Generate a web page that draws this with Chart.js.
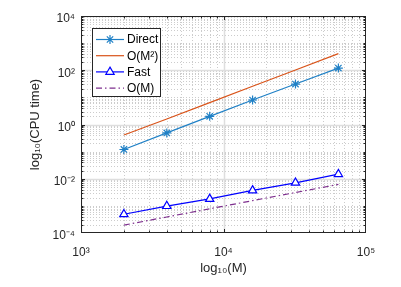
<!DOCTYPE html>
<html><head><meta charset="utf-8">
<script src="https://cdn.jsdelivr.net/npm/chart.js@4"></script>
<style>html,body{margin:0;padding:0;background:#fff}#wrap{width:401px;height:287px}</style>
</head><body><div id="wrap"><canvas id="c" width="401" height="287"></canvas></div>
<script>
// ---- data ----
const problemSizes = [2000, 4000, 8000, 16000, 32000, 64000];
const directTimes  = [0.12, 0.49, 2.0, 8.0, 31, 120];
const orderM2Ref   = [0.41, 1.6, 6.4, 25.6, 102, 410];
const fastTimes    = [4.9e-4, 9.8e-4, 1.8e-3, 3.7e-3, 7.1e-3, 1.48e-2];
const orderMRef    = [1.95e-4, 3.9e-4, 7.8e-4, 1.56e-3, 3.1e-3, 6.2e-3];
const xTickValues  = [1e3, 1e4, 1e5];
const yTickValues  = [1e-4, 1e-2, 1, 1e2, 1e4];
const seriesLabels = ['Direct', 'O(M²)', 'Fast', 'O(M)'];
const xTitle = 'log₁₀(M)';
const yTitle = 'log₁₀(CPU time)';

const FONT = '"Liberation Sans", Arial, sans-serif';
const AX = '#262626';
const SUP = {'-':'⁻','0':'⁰','1':'¹','2':'²','3':'³','4':'⁴','5':'⁵','6':'⁶','7':'⁷','8':'⁸','9':'⁹'};
function powLabel(v){ const e = Math.round(Math.log10(v)); return '10' + String(e).split('').map(c=>SUP[c]).join(''); }
const pts = arr => problemSizes.map((m,i)=>({x:m, y:arr[i]}));

const colors = ['#1f80c6', '#D95319', '#0000FF', '#7E2F8E'];
const datasets = [
  {label:seriesLabels[0], data:pts(directTimes), borderColor:colors[0], backgroundColor:colors[0], borderWidth:1.2, pointStyle:'star', pointRadius:4.5, pointBorderWidth:1.2},
  {label:seriesLabels[1], data:pts(orderM2Ref), borderColor:colors[1], borderWidth:1.2, pointRadius:0},
  {label:seriesLabels[2], data:pts(fastTimes), borderColor:colors[2], backgroundColor:'#ffffff', borderWidth:1.2, pointStyle:'triangle', pointRadius:4.8, pointBorderWidth:1.2},
  {label:seriesLabels[3], data:pts(orderMRef), borderColor:colors[3], borderWidth:1.2, pointRadius:0, borderDash:[6,3,1.5,3]}
];

function minorValues(lo, hi){ // 1..9 x 10^k inside (lo,hi)
  const out=[]; for(let e=Math.round(Math.log10(lo)); e<Math.round(Math.log10(hi)); e++){ for(let k=1;k<10;k++){ const v=k*Math.pow(10,e); if(v>lo && v<hi) out.push(v);} }
  return out;
}
const isMajor = (list,v) => list.some(t=>Math.abs(t-v)/t<1e-9);

const matlabAxes = {
  id:'matlabAxes',
  beforeDatasetsDraw(chart){
    const {ctx, chartArea:a, scales:{x,y}} = chart;
    ctx.save();
    ctx.beginPath(); ctx.rect(a.left,a.top,a.right-a.left,a.bottom-a.top); ctx.clip();
    ctx.strokeStyle='#cccccc'; ctx.lineWidth=1; ctx.setLineDash([1,2]);
    minorValues(1e3,1e5).forEach(v=>{ if(isMajor(xTickValues,v)) return; const p=Math.round(x.getPixelForValue(v))+0.5; ctx.beginPath(); ctx.moveTo(p,a.top); ctx.lineTo(p,a.bottom); ctx.stroke(); });
    minorValues(1e-4,1e4).forEach(v=>{ if(isMajor(yTickValues,v)) return; const p=Math.round(y.getPixelForValue(v))+0.5; ctx.beginPath(); ctx.moveTo(a.left,p); ctx.lineTo(a.right,p); ctx.stroke(); });
    ctx.setLineDash([]); ctx.strokeStyle='#dedede'; ctx.lineWidth=1.5;
    xTickValues.forEach(v=>{ const p=Math.round(x.getPixelForValue(v))+0.5; ctx.beginPath(); ctx.moveTo(p,a.top); ctx.lineTo(p,a.bottom); ctx.stroke(); });
    yTickValues.forEach(v=>{ const p=Math.round(y.getPixelForValue(v))+0.5; ctx.beginPath(); ctx.moveTo(a.left,p); ctx.lineTo(a.right,p); ctx.stroke(); });
    ctx.restore();
  },
  afterDatasetsDraw(chart){
    const {ctx, chartArea:a, scales:{x,y}} = chart;
    ctx.save();
    ctx.strokeStyle=AX; ctx.lineWidth=1; ctx.setLineDash([]);
    const L=Math.round(a.left)+0.5, R=Math.round(a.right)-0.5, T=Math.round(a.top)+0.5, B=Math.round(a.bottom)-0.5;
    ctx.strokeRect(L,T,R-L,B-T);
    const tick=(p,len,hor)=>{ ctx.beginPath(); if(hor){ctx.moveTo(p,B);ctx.lineTo(p,B-len);ctx.moveTo(p,T);ctx.lineTo(p,T+len);} else {ctx.moveTo(L,p);ctx.lineTo(L+len,p);ctx.moveTo(R,p);ctx.lineTo(R-len,p);} ctx.stroke(); };
    minorValues(1e3,1e5).forEach(v=>tick(Math.round(x.getPixelForValue(v))+0.5, isMajor(xTickValues,v)?3.5:2, true));
    minorValues(1e-4,1e4).forEach(v=>tick(Math.round(y.getPixelForValue(v))+0.5, isMajor(yTickValues,v)?3.5:2, false));
    // legend
    const lx=92.5, ly=28.5, lw=68, lh=68;
    ctx.fillStyle='#fff'; ctx.fillRect(lx,ly,lw,lh);
    ctx.strokeStyle=AX; ctx.strokeRect(lx,ly,lw,lh);
    chart.data.datasets.forEach((ds,i)=>{
      const cy = 39.5 + i*16.2;
      ctx.save();
      ctx.strokeStyle=ds.borderColor; ctx.lineWidth=ds.borderWidth; ctx.setLineDash(ds.borderDash||[]);
      ctx.beginPath(); ctx.moveTo(96,cy); ctx.lineTo(124,cy); ctx.stroke();
      ctx.setLineDash([]);
      if(ds.pointRadius>0){
        ctx.fillStyle=ds.backgroundColor; ctx.strokeStyle=ds.borderColor; ctx.lineWidth=ds.pointBorderWidth;
        Chart.helpers.drawPoint(ctx,{pointStyle:ds.pointStyle, radius:ds.pointRadius, rotation:0, borderWidth:ds.pointBorderWidth}, 110, cy);
      }
      ctx.restore();
      ctx.fillStyle='#000'; ctx.font='12px '+FONT; ctx.textBaseline='middle'; ctx.textAlign='left';
      ctx.fillText(ds.label, 127, cy+0.5);
    });
    ctx.restore();
  }
};

new Chart(document.getElementById('c'), {
  type:'line',
  data:{datasets},
  options:{
    responsive:false, devicePixelRatio:1, animation:false,
    layout:{padding:{top:16, right:35, left:0, bottom:0}},
    plugins:{legend:{display:false}, tooltip:{enabled:false}},
    elements:{line:{tension:0}},
    scales:{
      x:{type:'logarithmic', position:'bottom', min:1e3, max:1e5,
        grid:{display:false, drawTicks:false}, border:{display:false},
        afterBuildTicks:s=>{ s.ticks = xTickValues.map(v=>({value:v})); },
        afterFit:s=>{ s.height = 54; },
        ticks:{autoSkip:false, maxRotation:0, padding:12, color:AX, font:{family:FONT, size:12}, callback:v=>powLabel(v)},
        title:{display:true, text:xTitle, color:AX, font:{family:FONT, size:13}, padding:{top:0, bottom:11}}
      },
      y:{type:'logarithmic', position:'left', min:1e-4, max:1e4,
        grid:{display:false, drawTicks:false}, border:{display:false},
        afterBuildTicks:s=>{ s.ticks = yTickValues.map(v=>({value:v})); },
        afterFit:s=>{ s.width = 81; },
        ticks:{autoSkip:false, padding:6, color:AX, font:{family:FONT, size:12, lineHeight:'6px'}, callback:v=>['', powLabel(v)]},
        title:{display:true, text:yTitle, color:AX, font:{family:FONT, size:13}, padding:{top:28, bottom:0}}
      }
    }
  },
  plugins:[matlabAxes]
});
</script></body></html>
